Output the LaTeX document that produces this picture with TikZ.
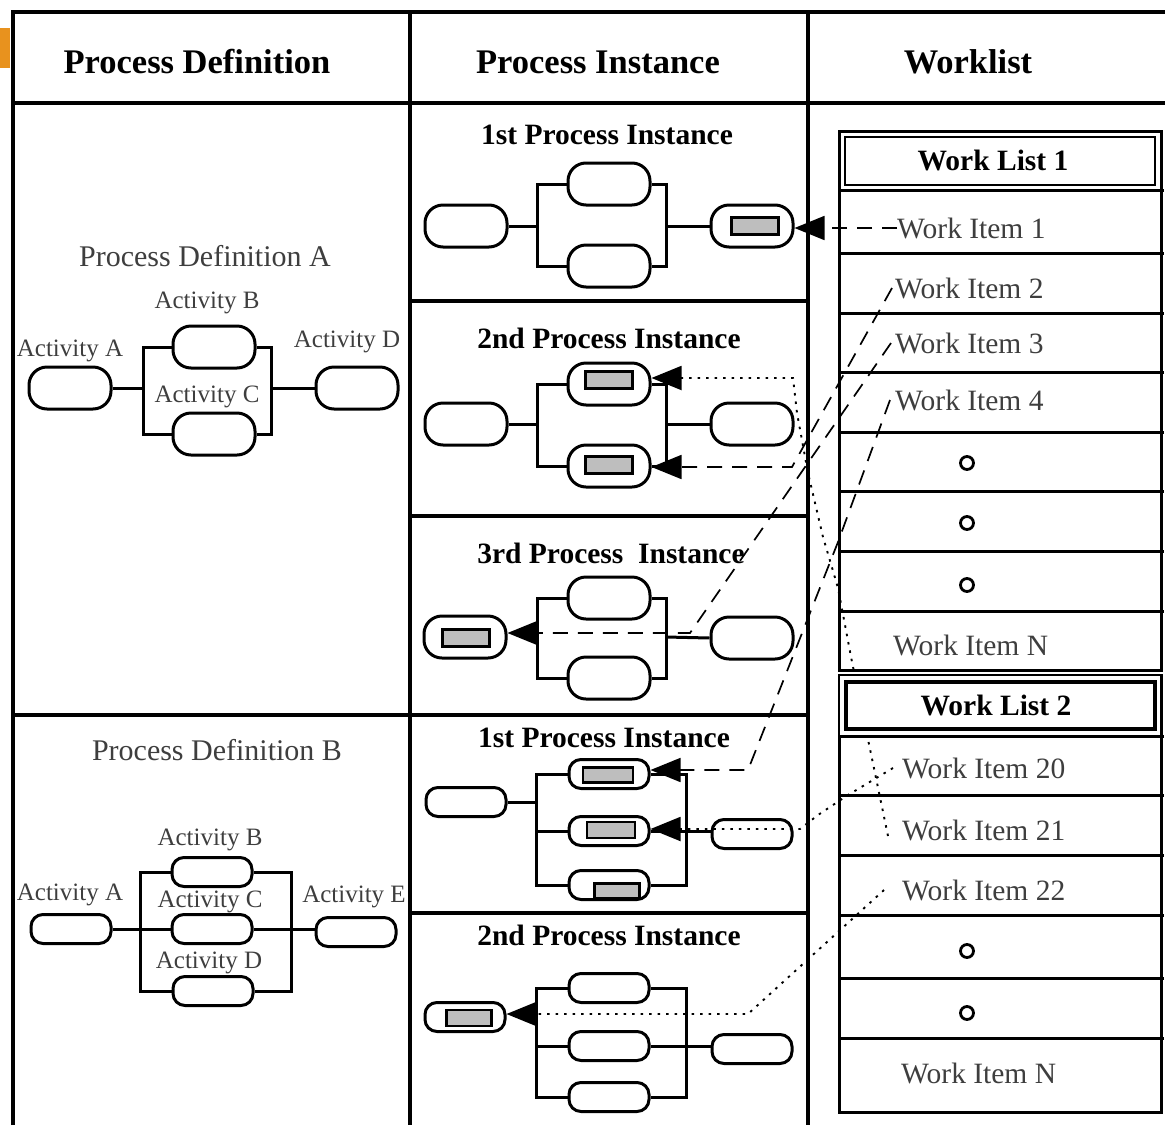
\documentclass[tikz,border=0pt]{standalone}
\usepackage{fontspec}
\setmainfont{Liberation Serif}
\usetikzlibrary{arrows.meta}
\definecolor{labgray}{RGB}{62,62,62}
\definecolor{tokgray}{RGB}{190,190,190}
\definecolor{orangetab}{RGB}{232,146,30}
\begin{document}
\begin{tikzpicture}[x=1pt,y=-1pt,
  frame/.style={line width=3.2pt},
  wire/.style={line width=3pt},
  pill/.style={draw, line width=3pt, minimum width=82pt, minimum height=42pt, rounded corners=18pt, inner sep=0pt},
  spill/.style={pill, minimum width=80pt, minimum height=29pt, rounded corners=12pt},
  token/.style={draw, fill=tokgray, line width=2.2pt, minimum width=47pt, minimum height=17pt, inner sep=0pt},
  hd/.style={font=\bfseries\fontsize{34.5}{40}\selectfont, inner sep=0pt},
  ttl/.style={font=\bfseries\fontsize{29.5}{36}\selectfont, inner sep=0pt},
  pdl/.style={font=\fontsize{30}{36}\selectfont, text=labgray, inner sep=0pt},
  act/.style={font=\fontsize{25}{30}\selectfont, text=labgray, inner sep=0pt},
  wit/.style={font=\fontsize{29.5}{36}\selectfont, text=labgray, inner sep=0pt, anchor=west},
  circ/.style={draw, circle, line width=2.8pt, minimum size=13pt, inner sep=0pt},
  dashc/.style={line width=1.7pt, dash pattern=on 15pt off 10pt, -{Triangle[length=30pt,width=24pt]}},
  dotc/.style={line width=1.9pt, dash pattern=on 2.5pt off 6pt, -{Triangle[length=30pt,width=24pt]}},
  rowline/.style={line width=3pt}
]
\useasboundingbox (0,0) rectangle (1165,1125);

% ---------- table frame ----------
\fill[orangetab] (0,28) rectangle (10,68);
\draw[frame] (13,1125) -- (13,12) -- (1165,12);
\draw[frame] (13,103) -- (1165,103);
\draw[frame] (410,12) -- (410,1125);
\draw[frame] (808,12) -- (808,1125);
\draw[frame] (13,715) -- (808,715);
\draw[frame] (410,301) -- (808,301);
\draw[frame] (410,516) -- (808,516);
\draw[frame] (410,913) -- (808,913);

\node[hd] (hpd) at (197,62) {Process Definition};
\node[hd] (hpi) at (598,62) {Process Instance};
\node[hd] (hwl) at (968,62) {Worklist};

% ---------- Process Definition A ----------
\node[pdl] (pdA) at (205,256) {Process Definition A};
\node[pill] (daA) at (70,388) {};
\node[pill] (daB) at (214,347) {};
\node[pill] (daC) at (214,434) {};
\node[pill] (daD) at (357,388) {};
\node[act] (ldaB) at (207,303) {Activity B};
\node[act] (ldaA) at (70,351) {Activity A};
\node[act] (ldaD) at (347,342) {Activity D};
\node[act] (ldaC) at (207,397) {Activity C};
\coordinate (daL) at (143,388);
\coordinate (daR) at (271,388);
\draw[wire] (daA.east) -- (daL);
\draw[wire] (daB.west) -| (daL) |- (daC.west);
\draw[wire] (daB.east) -| (daR) |- (daC.east);
\draw[wire] (daR) -- (daD.west);

% ---------- Process Definition B ----------
\node[pdl] (pdB) at (217,750) {Process Definition B};
\node[spill] (dbA) at (71,929) {};
\node[spill] (dbB) at (212,872) {};
\node[spill] (dbC) at (212,929) {};
\node[spill] (dbD) at (213,991) {};
\node[spill] (dbE) at (356,932) {};
\node[act] (ldbB) at (210,840) {Activity B};
\node[act] (ldbA) at (70,895) {Activity A};
\node[act] (ldbC) at (210,902) {Activity C};
\node[act] (ldbE) at (354,897) {Activity E};
\node[act] (ldbD) at (209,963) {Activity D};
\coordinate (dbL) at (140,929);
\coordinate (dbR) at (291,929);
\draw[wire] (dbA.east) -- (dbC.west);
\draw[wire] (dbB.west) -| (dbL) |- (dbD.west);
\draw[wire] (dbB.east) -| (dbR) |- (dbD.east);
\draw[wire] (dbC.east) -- (dbC.east -| dbE.west);

% ---------- 1st Process Instance (A) ----------
\node[ttl] (t1) at (607,135) {1st Process Instance};
\node[pill] (p1a) at (466,226) {};
\node[pill] (p1b) at (609,184) {};
\node[pill] (p1c) at (609,266) {};
\node[pill] (p1d) at (752,226) {};
\node[token] (k1d) at (755,226) {};
\coordinate (s1L) at (537,226);
\coordinate (s1R) at (666,226);
\draw[wire] (p1a.east) -- (s1L);
\draw[wire] (p1b.west) -| (s1L) |- (p1c.west);
\draw[wire] (p1b.east) -| (s1R) |- (p1c.east);
\draw[wire] (s1R) -- (p1d.west);

% ---------- 2nd Process Instance (A) ----------
\node[ttl] (t2) at (609,338) {2nd Process Instance};
\node[pill] (p2a) at (466,424) {};
\node[pill] (p2b) at (609,384) {};
\node[pill] (p2c) at (609,466) {};
\node[pill] (p2d) at (752,424) {};
\node[token] (k2b) at (609,380) {};
\node[token] (k2c) at (609,465) {};
\coordinate (s2L) at (537,424);
\coordinate (s2R) at (666,424);
\draw[wire] (p2a.east) -- (s2L);
\draw[wire] (p2b.west) -| (s2L) |- (p2c.west);
\draw[wire] (p2b.east) -| (s2R) |- (p2c.east);
\draw[wire] (s2R) -- (p2d.west);

% ---------- 3rd Process Instance (A) ----------
\node[ttl] (t3) at (611,553) {3rd Process\ \ Instance};
\node[pill] (p3a) at (465,637) {};
\node[pill] (p3b) at (609,598) {};
\node[pill] (p3c) at (609,678) {};
\node[pill] (p3d) at (752,638) {};
\node[token] (k3a) at (466,638) {};
\coordinate (s3L) at (537,637);
\coordinate (s3R) at (666,637);
\draw[wire] (p3b.west) -| (s3L) |- (p3c.west);
\draw[wire] (p3b.east) -| (s3R) |- (p3c.east);
\draw[wire] (s3R) -- (p3d.west);

% ---------- 1st Process Instance (B) ----------
\node[ttl] (t4) at (604,738) {1st Process Instance};
\node[spill] (q1a) at (466,802) {};
\node[spill] (q1b) at (609,774) {};
\node[spill] (q1c) at (609,831) {};
\node[spill] (q1d) at (609,885) {};
\node[spill] (q1e) at (752,834) {};
\node[token, minimum width=50pt, minimum height=15pt] (kq1b) at (608,775) {};
\node[token, minimum width=48pt, minimum height=16pt] (kq1c) at (611,830) {};
\node[token, minimum width=45pt, minimum height=15pt] (kq1d) at (617,891) {};
\coordinate (s4L) at (536,802);
\coordinate (s4R) at (686,834);
\draw[wire] (q1a.east) -- (s4L);
\draw[wire] (q1b.west) -| (s4L) |- (q1d.west);
\draw[wire] (s4L) |- (q1c.west);
\draw[wire] (q1b.east) -| (s4R) |- (q1d.east);
\draw[wire] (q1c.east) -- (q1c.east -| q1e.west);

% ---------- 2nd Process Instance (B) ----------
\node[ttl] (t5) at (609,935) {2nd Process Instance};
\node[spill] (r1a) at (465,1017) {};
\node[spill] (r1b) at (609,988) {};
\node[spill] (r1c) at (609,1046) {};
\node[spill] (r1d) at (609,1097) {};
\node[spill] (r1e) at (752,1049) {};
\node[token, minimum width=45pt, minimum height=16pt] (kr1a) at (469,1018) {};
\coordinate (s5L) at (536,1017);
\coordinate (s5R) at (686,1046);
\draw[wire] (r1b.west) -| (s5L) |- (r1d.west);
\draw[wire] (s5L) |- (r1c.west);
\draw[wire] (r1b.east) -| (s5R) |- (r1d.east);
\draw[wire] (r1c.east) -- (r1c.east -| r1e.west);

% ---------- work item texts ----------
\node[wit] (wi1) at (897,228) {Work Item 1};
\node[wit] (wi2) at (895,288) {Work Item 2};
\node[wit] (wi3) at (895,343) {Work Item 3};
\node[wit] (wi4) at (895,400) {Work Item 4};
\node[wit] (win1) at (893,645) {Work Item N};
\node[wit] (wi20) at (902,768) {Work Item 20};
\node[wit] (wi21) at (902,830) {Work Item 21};
\node[wit] (wi22) at (902,890) {Work Item 22};
\node[wit] (win2) at (901,1073) {Work Item N};

% ---------- connectors ----------
\draw[dashc] (wi1.west) -- (wi1.west -| p1d.east);
\coordinate (c2) at (792,467);
\draw[dashc] ([xshift=-3pt]wi2.west) -- (c2) -- (c2 -| p2c.east);
\coordinate (c3) at (690,633);
\draw[dashc] ([xshift=-4pt]wi3.west) -- (c3) -- (c3 -| p3a.east);
\coordinate (c4a) at (838,542);
\coordinate (c4) at (748,770);
\draw[dashc] ([xshift=-5pt]wi4.west) -- (c4a) -- (c4) -- (c4 -| q1b.east);
\coordinate (c5a) at (852,662);
\coordinate (c5b) at (838,588);
\coordinate (c5c) at (823,537);
\coordinate (c5d) at (808,473);
\coordinate (c5e) at (797,413);
\coordinate (c5) at (793,378);
\draw[dotc] ([xshift=-14pt,yshift=-6pt]wi21.west) -- (c5a) -- (c5b) -- (c5c) -- (c5d) -- (c5e) -- (c5) -- (c5 -| p2b.east);
\coordinate (c6a) at (848,795);
\coordinate (c6b) at (818,815);
\coordinate (c6) at (800,829);
\draw[dotc] ([xshift=-9pt]wi20.west) -- (c6a) -- (c6b) -- (c6) -- (c6 -| q1c.east);
\coordinate (c7) at (748,1014);
\draw[dotc] ([xshift=-18pt]wi22.west) -- (c7) -- (c7 -| r1a.east);

% ---------- Work List 1 ----------
\draw[rowline] (839,131) rectangle (1161,670);
\draw[line width=2.4pt] (845,137) rectangle (1155,185);
\draw[rowline] (839,190) -- (1164,190);
\foreach \yy in {253,313,372,432,491,551,611} \draw[rowline] (839,\yy) -- (1164,\yy);
\node[font=\bfseries\fontsize{29.5}{36}\selectfont, inner sep=0pt] (wl1) at (993,160) {Work List 1};
\node[circ] (o1) at (967,463) {};
\node[circ] (o2) at (967,523) {};
\node[circ] (o3) at (967,585) {};

% ---------- Work List 2 ----------
\draw[rowline] (839,675) rectangle (1161,1112);
\draw[line width=1.8pt, fill=white] (839,675) rectangle (1161,736);
\draw[line width=4.5pt] (846,682) rectangle (1155,729);
\foreach \yy in {736,795,855,915,978,1038} \draw[rowline] (839,\yy) -- (1164,\yy);
\node[font=\bfseries\fontsize{29.5}{36}\selectfont, inner sep=0pt] (wl2) at (996,705) {Work List 2};
\node[circ] (o4) at (967,951) {};
\node[circ] (o5) at (967,1013) {};
\end{tikzpicture}
\end{document}
